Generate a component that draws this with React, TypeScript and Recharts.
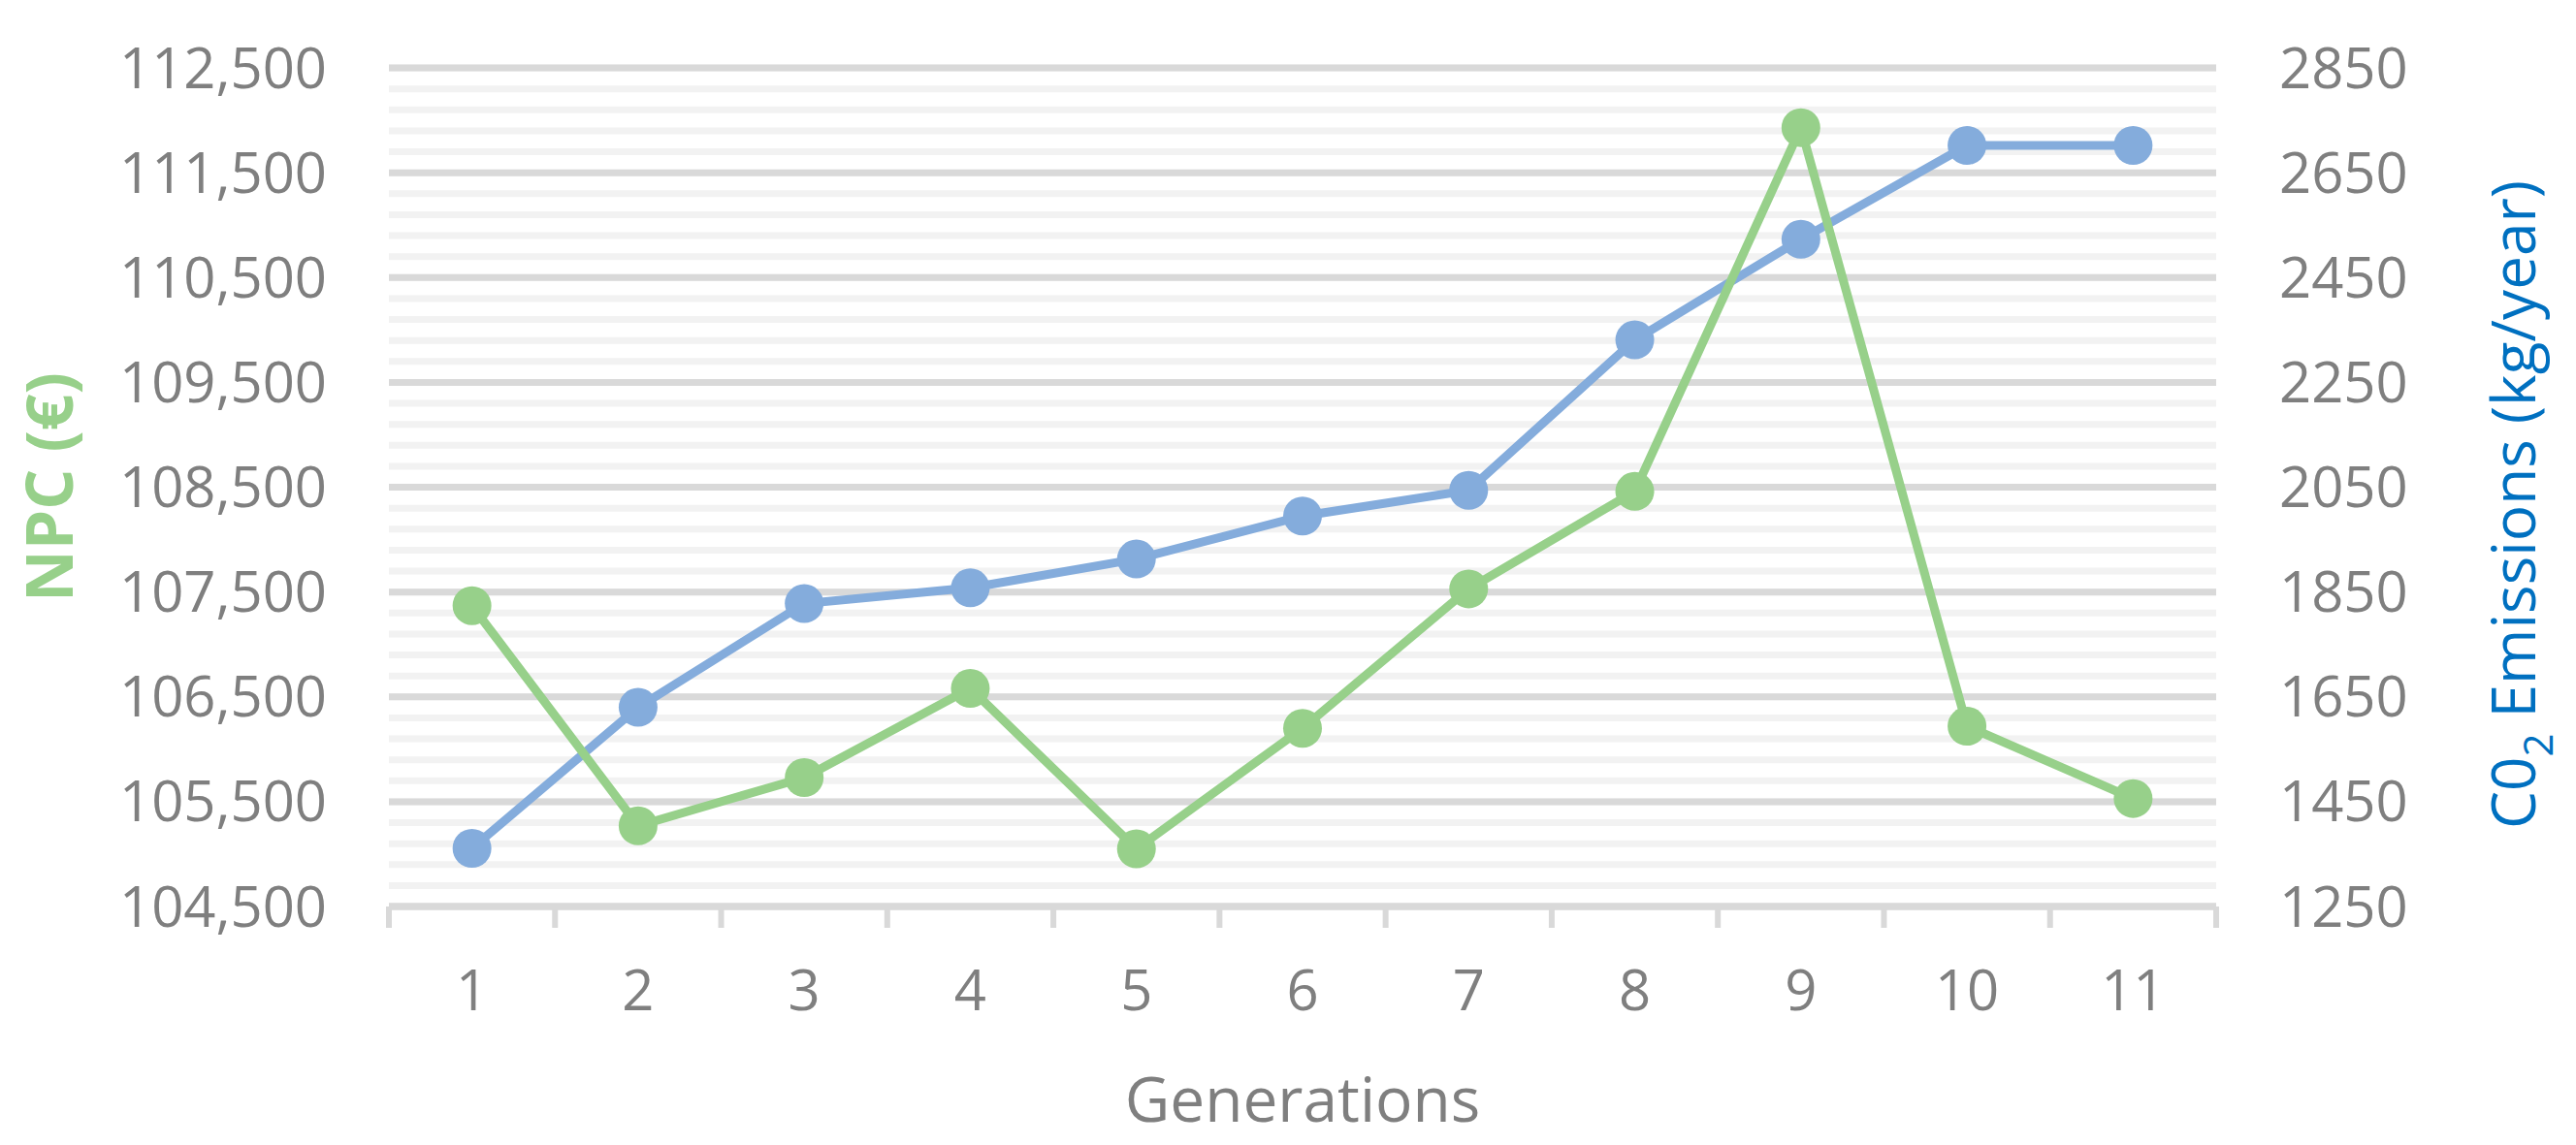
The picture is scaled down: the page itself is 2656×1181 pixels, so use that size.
import { CartesianGrid, Line, LineChart, XAxis, YAxis } from "recharts";

const generations = [1, 2, 3, 4, 5, 6, 7, 8, 9, 10, 11];
const npcValues = [107370, 105270, 105730, 106580, 105050, 106200, 107530, 108460, 111930, 106220, 105530];
const co2Values = [1361, 1630, 1828, 1858, 1913, 1995, 2044, 2331, 2523, 2702, 2702];
const npcTicks = [104500, 105500, 106500, 107500, 108500, 109500, 110500, 111500, 112500];
const co2Ticks = [1250, 1450, 1650, 1850, 2050, 2250, 2450, 2650, 2850];

const GREEN = "#97d08a";
const BLUE = "#84acdc";
const GRID_MAJOR = "#d9d9d9";
const GRID_MINOR = "#f2f2f2";
const TEXT = "#7f7f7f";
const TITLE_BLUE = "#0070c0";

const data = generations.map((g, i) => ({ gen: g, npc: npcValues[i], co2: co2Values[i] }));

// labels at the generations, tick marks on the boundaries between them
const xTicks = [...generations, ...generations.map((g) => g - 0.5), generations[generations.length - 1] + 0.5].sort(
  (a, b) => a - b
);

// minor grid every 200 on the NPC axis
const npcMinor: number[] = [];
for (let v = npcTicks[0]; v <= npcTicks[npcTicks.length - 1]; v += 200) npcMinor.push(v);

function XTick({ x, y, payload }: any) {
  const v = payload.value;
  if (Number.isInteger(v)) {
    return (
      <text x={x} y={y + 107} textAnchor="middle" fill={TEXT} fontSize={58}>
        {v}
      </text>
    );
  }
  return <line x1={x} x2={x} y1={y} y2={y + 22} stroke={GRID_MAJOR} strokeWidth={6} />;
}

function LeftTitle({ viewBox }: any) {
  const cy = viewBox.y + viewBox.height / 2;
  return (
    <text
      transform={`translate(${viewBox.x + 75},${cy}) rotate(-90)`}
      textAnchor="middle"
      fill={GREEN}
      fontSize={66}
      fontWeight={700}
    >
      NPC (€)
    </text>
  );
}

function RightTitle({ viewBox }: any) {
  const cy = viewBox.y + viewBox.height / 2 + 18;
  return (
    <text transform={`translate(${viewBox.x + 329},${cy}) rotate(-90)`} textAnchor="middle" fill={TITLE_BLUE} fontSize={62}>
      C0
      <tspan dy={18} fontSize={42}>
        2
      </tspan>
      <tspan dy={-18}> Emissions (kg/year)</tspan>
    </text>
  );
}

function BottomTitle({ viewBox }: any) {
  return (
    <text x={viewBox.x + viewBox.width / 2} y={viewBox.y + 222} textAnchor="middle" fill={TEXT} fontSize={64}>
      Generations
    </text>
  );
}

export default function App() {
  return (
    <div style={{ width: 2656, height: 1181, fontFamily: "'Open Sans', sans-serif", background: "#fff" }}>
      <style>{"body{margin:0}"}</style>
      <LineChart width={2656} height={1181} data={data} margin={{ top: 70, right: 0, bottom: 0, left: 0 }}>
        <CartesianGrid vertical={false} horizontalValues={npcMinor} stroke={GRID_MINOR} strokeWidth={7} />
        <CartesianGrid vertical={false} horizontalValues={npcTicks} stroke={GRID_MAJOR} strokeWidth={7} />
        <XAxis
          type="number"
          dataKey="gen"
          domain={[0.5, 11.5]}
          ticks={xTicks}
          interval={0}
          height={246}
          tickSize={0}
          tickMargin={0}
          tickLine={false}
          axisLine={{ stroke: GRID_MAJOR, strokeWidth: 7 }}
          tick={<XTick />}
          label={<BottomTitle />}
        />
        <YAxis
          width={401}
          domain={[104500, 112500]}
          ticks={npcTicks}
          interval={0}
          axisLine={false}
          tickLine={false}
          tickSize={0}
          tickMargin={64}
          tick={{ fill: TEXT, fontSize: 58 }}
          tickFormatter={(v: number) => v.toLocaleString("en-US")}
          label={<LeftTitle />}
        />
        <YAxis
          yAxisId="co2"
          orientation="right"
          width={371}
          domain={[1250, 2850]}
          ticks={co2Ticks}
          interval={0}
          axisLine={false}
          tickLine={false}
          tickSize={0}
          tickMargin={65}
          tick={{ fill: TEXT, fontSize: 58 }}
          label={<RightTitle />}
        />
        <Line
          yAxisId="co2"
          type="linear"
          dataKey="co2"
          stroke={BLUE}
          strokeWidth={9}
          dot={{ r: 20, fill: BLUE, stroke: "none" }}
          activeDot={false}
          isAnimationActive={false}
        />
        <Line
          type="linear"
          dataKey="npc"
          stroke={GREEN}
          strokeWidth={9}
          dot={{ r: 20, fill: GREEN, stroke: "none" }}
          activeDot={false}
          isAnimationActive={false}
        />
      </LineChart>
    </div>
  );
}
